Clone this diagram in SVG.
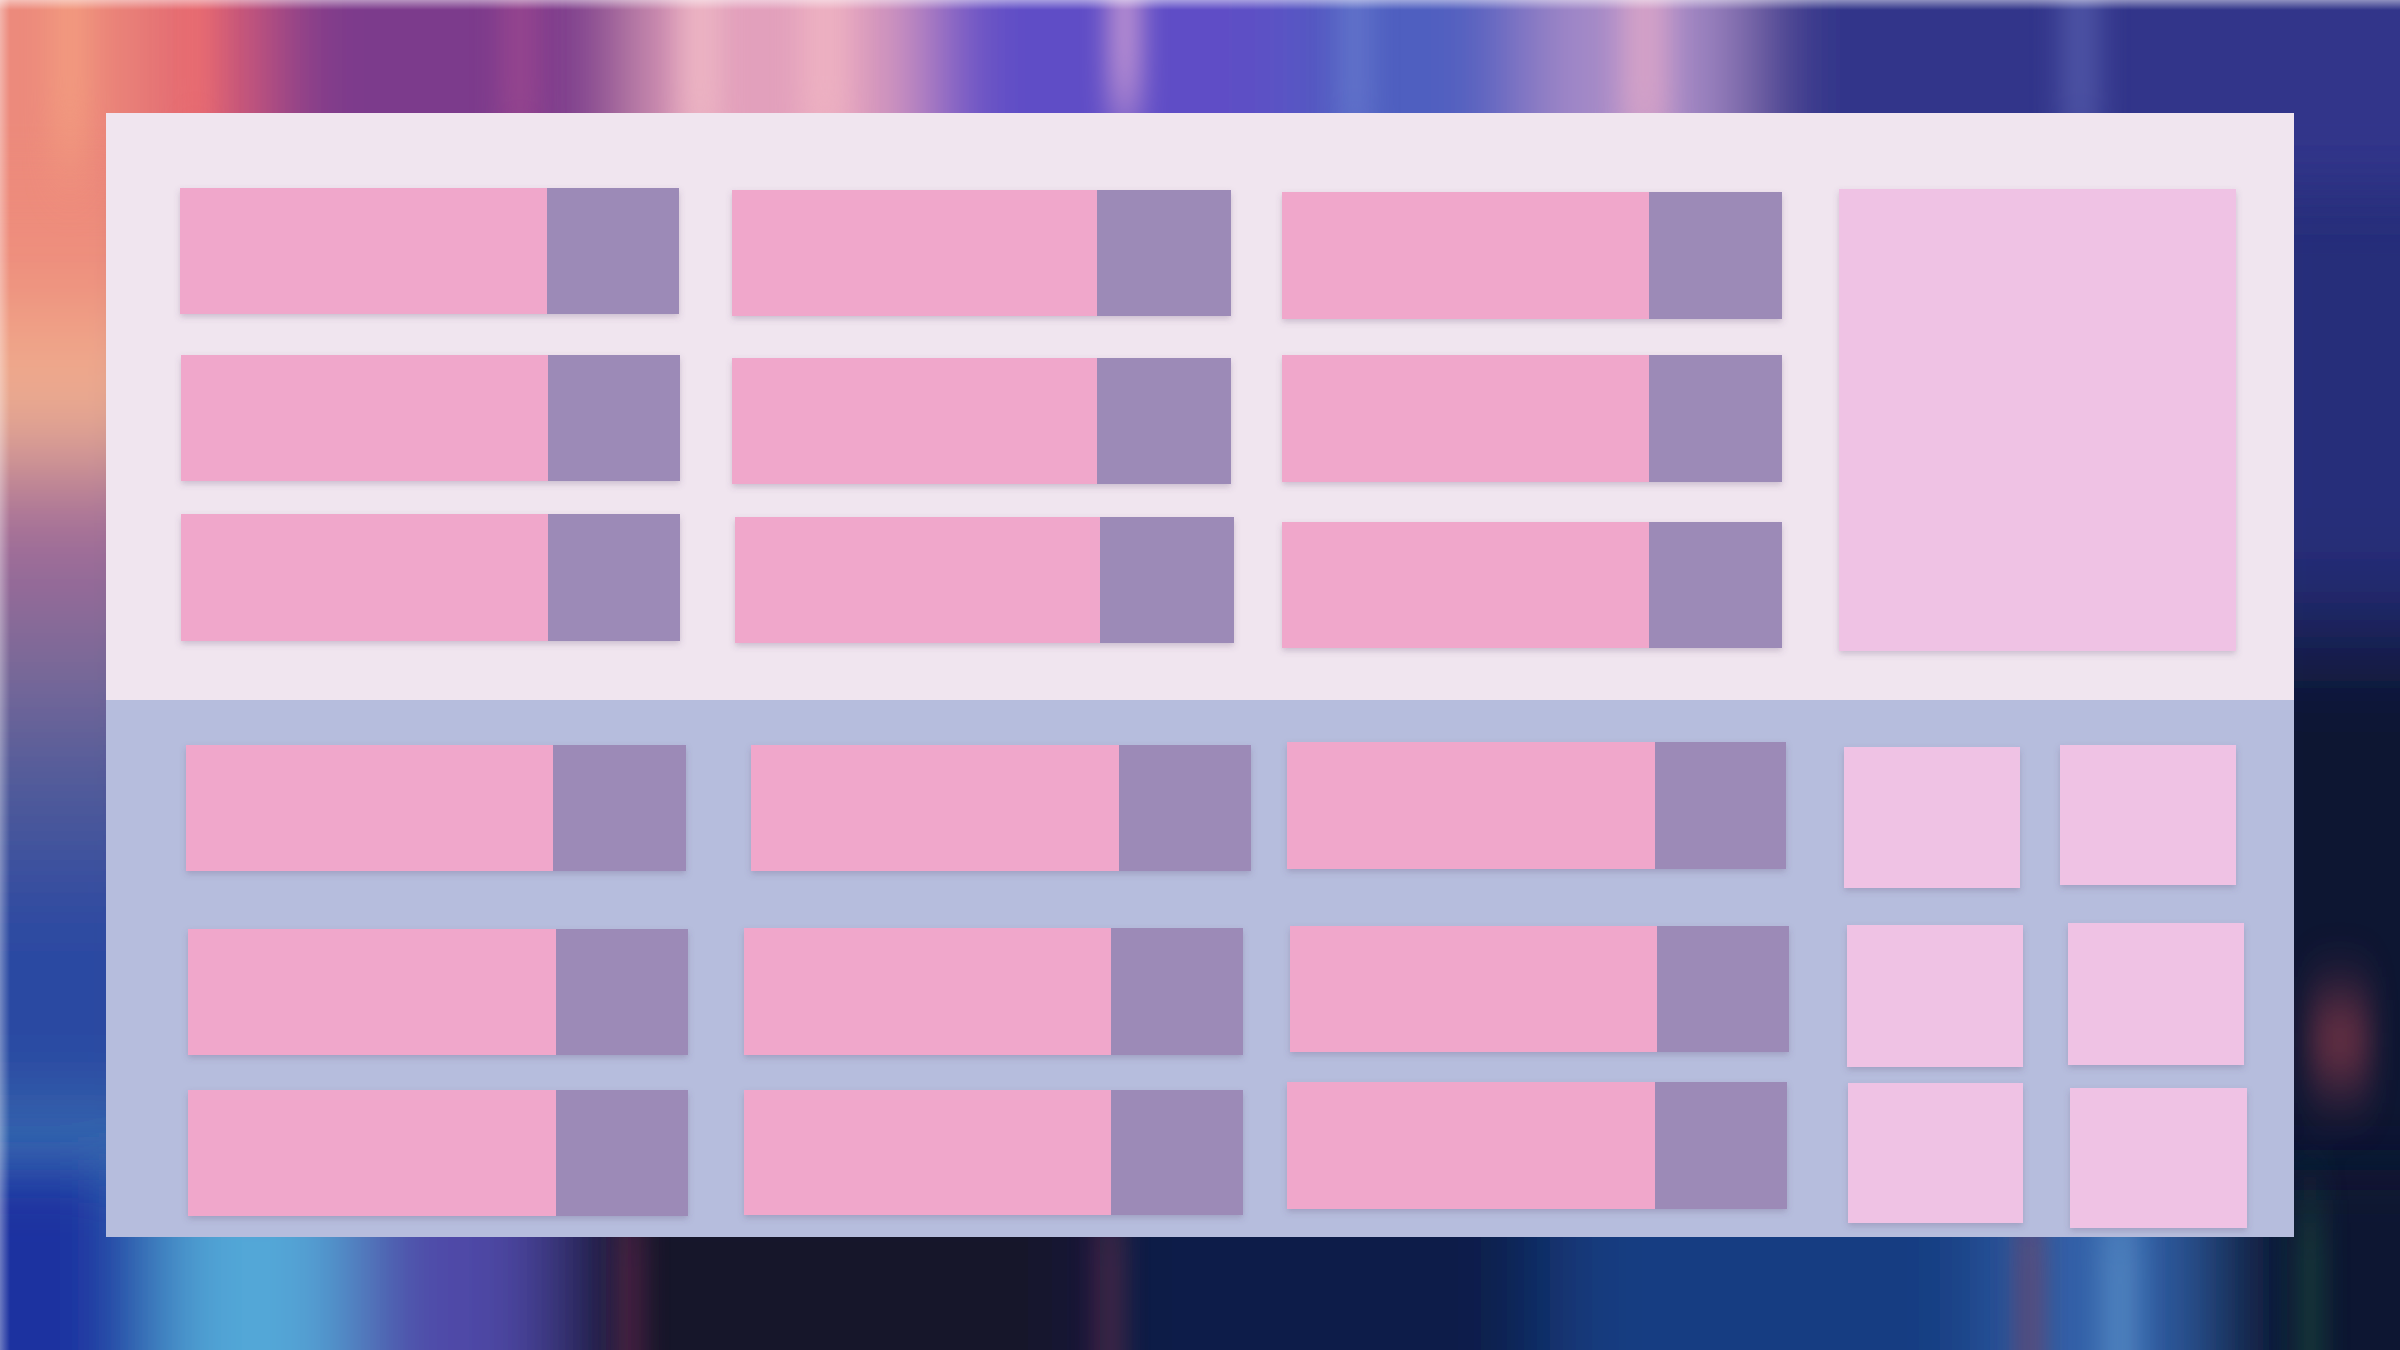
<svg xmlns="http://www.w3.org/2000/svg" width="2400" height="1350" viewBox="0 0 2400 1350">
<defs>
<style>
.pk{fill:#F0A7CB}
.pu{fill:#9C8AB7}
.lt{fill:#EFC2E4}
.card{filter:url(#sh)}
</style>
<filter id="sh" x="-10%" y="-10%" width="120%" height="130%">
<feDropShadow dx="0" dy="3" stdDeviation="3" flood-color="#5a4a70" flood-opacity="0.25"/>
</filter>
<filter id="bl" filterUnits="userSpaceOnUse" x="-300" y="-300" width="3000" height="1950">
<feGaussianBlur stdDeviation="30 55"/>
</filter>
<filter id="bl2" filterUnits="userSpaceOnUse" x="-300" y="-300" width="3000" height="1950">
<feGaussianBlur stdDeviation="45 30"/>
</filter>
<filter id="bl3" filterUnits="userSpaceOnUse" x="-300" y="-300" width="3000" height="1950">
<feGaussianBlur stdDeviation="14 35"/>
</filter>
<linearGradient id="edgeT" x1="0" y1="0" x2="0" y2="1">
<stop offset="0" stop-color="#ffffff" stop-opacity="0.45"/>
<stop offset="1" stop-color="#ffffff" stop-opacity="0"/>
</linearGradient>
<linearGradient id="edgeL" x1="0" y1="0" x2="1" y2="0">
<stop offset="0" stop-color="#ffffff" stop-opacity="0.35"/>
<stop offset="1" stop-color="#ffffff" stop-opacity="0"/>
</linearGradient>
</defs>
<g id="background">
<rect x="0" y="0" width="2400" height="1350" fill="#2a2c70"/>
<g filter="url(#bl)">
<rect x="-200" y="-200" width="360" height="530" fill="#ee8c7c"/>
<rect x="-200" y="330" width="360" height="130" fill="#f0b090"/>
<rect x="-200" y="460" width="360" height="140" fill="#a06a98"/>
<rect x="-200" y="600" width="360" height="120" fill="#7a6a98"/>
<rect x="-200" y="720" width="360" height="140" fill="#4e5a9a"/>
<rect x="-200" y="860" width="360" height="290" fill="#2a4aa2"/>
<rect x="-200" y="1150" width="360" height="60" fill="#4a90c8"/>
<rect x="-200" y="1210" width="360" height="340" fill="#12288e"/>
<rect x="2240" y="-200" width="400" height="820" fill="#262e7a"/>
<rect x="2240" y="620" width="400" height="930" fill="#0c1232"/>
</g>
<g filter="url(#bl2)">
<rect x="-200" y="-200" width="350" height="390" fill="#ec8a7c"/>
<rect x="150" y="-200" width="110" height="390" fill="#e06070"/>
<rect x="260" y="-200" width="380" height="390" fill="#7c3a8c"/>
<rect x="640" y="-200" width="280" height="390" fill="#e2a0bc"/>
<rect x="920" y="-200" width="380" height="390" fill="#5e4ec6"/>
<rect x="1300" y="-200" width="230" height="390" fill="#4f5ec0"/>
<rect x="1530" y="-200" width="210" height="390" fill="#a88cc8"/>
<rect x="1740" y="-200" width="900" height="390" fill="#30358a"/>
<rect x="-200" y="1170" width="360" height="400" fill="#1a30a0"/>
<rect x="160" y="1170" width="190" height="400" fill="#52a8d8"/>
<rect x="350" y="1170" width="200" height="400" fill="#5048a8"/>
<rect x="550" y="1170" width="550" height="400" fill="#12122c"/>
<rect x="1100" y="1170" width="450" height="400" fill="#0e1a48"/>
<rect x="1550" y="1170" width="450" height="400" fill="#163c82"/>
<rect x="2000" y="1170" width="200" height="400" fill="#3060a8"/>
<rect x="2200" y="1170" width="450" height="400" fill="#081430"/>
</g>
<g filter="url(#bl3)" opacity="0.7">
<rect x="50" y="-100" width="40" height="260" fill="#f4a080"/>
<rect x="180" y="-100" width="30" height="260" fill="#f07070"/>
<rect x="500" y="-100" width="40" height="260" fill="#a04a90"/>
<rect x="680" y="-100" width="40" height="260" fill="#f4c0c8"/>
<rect x="800" y="-100" width="50" height="260" fill="#f2b8c4"/>
<rect x="1110" y="-100" width="30" height="220" fill="#f0b8d8"/>
<rect x="1340" y="-100" width="30" height="260" fill="#6a80d0"/>
<rect x="1620" y="-100" width="50" height="260" fill="#e6aac8"/>
<rect x="2060" y="-100" width="40" height="260" fill="#5a60b0"/>
<rect x="620" y="1200" width="20" height="260" fill="#7a2a50"/>
<rect x="1100" y="1200" width="20" height="260" fill="#7a3050"/>
<rect x="2020" y="1200" width="20" height="260" fill="#8a3a50"/>
<rect x="2100" y="1200" width="40" height="260" fill="#5a90c8"/>
<rect x="2300" y="1200" width="20" height="260" fill="#1a5a40"/>
<rect x="2310" y="1000" width="60" height="80" fill="#a04050"/>
</g>
<rect x="0" y="0" width="2400" height="10" fill="url(#edgeT)"/>
<rect x="0" y="0" width="10" height="1350" fill="url(#edgeL)"/>
</g>
<g id="panel">
<rect x="106" y="113" width="2188" height="587" fill="#F0E5EF"/>
<rect x="106" y="700" width="2188" height="537" fill="#B6BDDD"/>
</g>
<g id="connectors"></g>
<g id="top-nodes">
<g id="t11" class="card"><rect class="pk" x="180" y="188" width="367" height="126"/><rect class="pu" x="547" y="188" width="132" height="126"/></g>
<g id="t21" class="card"><rect class="pk" x="181" y="355" width="367" height="126"/><rect class="pu" x="548" y="355" width="132" height="126"/></g>
<g id="t31" class="card"><rect class="pk" x="181" y="514" width="367" height="127"/><rect class="pu" x="548" y="514" width="132" height="127"/></g>
<g id="t12" class="card"><rect class="pk" x="732" y="190" width="365" height="126"/><rect class="pu" x="1097" y="190" width="134" height="126"/></g>
<g id="t22" class="card"><rect class="pk" x="732" y="358" width="365" height="126"/><rect class="pu" x="1097" y="358" width="134" height="126"/></g>
<g id="t32" class="card"><rect class="pk" x="735" y="517" width="365" height="126"/><rect class="pu" x="1100" y="517" width="134" height="126"/></g>
<g id="t13" class="card"><rect class="pk" x="1282" y="192" width="367" height="127"/><rect class="pu" x="1649" y="192" width="133" height="127"/></g>
<g id="t23" class="card"><rect class="pk" x="1282" y="355" width="367" height="127"/><rect class="pu" x="1649" y="355" width="133" height="127"/></g>
<g id="t33" class="card"><rect class="pk" x="1282" y="522" width="367" height="126"/><rect class="pu" x="1649" y="522" width="133" height="126"/></g>
<g id="big" class="card"><rect class="lt" x="1839" y="189" width="397" height="462"/></g>
</g>
<g id="bottom-nodes">
<g id="b11" class="card"><rect class="pk" x="186" y="745" width="367" height="126"/><rect class="pu" x="553" y="745" width="133" height="126"/></g>
<g id="b21" class="card"><rect class="pk" x="188" y="929" width="368" height="126"/><rect class="pu" x="556" y="929" width="132" height="126"/></g>
<g id="b31" class="card"><rect class="pk" x="188" y="1090" width="368" height="126"/><rect class="pu" x="556" y="1090" width="132" height="126"/></g>
<g id="b12" class="card"><rect class="pk" x="751" y="745" width="368" height="126"/><rect class="pu" x="1119" y="745" width="132" height="126"/></g>
<g id="b22" class="card"><rect class="pk" x="744" y="928" width="367" height="127"/><rect class="pu" x="1111" y="928" width="132" height="127"/></g>
<g id="b32" class="card"><rect class="pk" x="744" y="1090" width="367" height="125"/><rect class="pu" x="1111" y="1090" width="132" height="125"/></g>
<g id="b13" class="card"><rect class="pk" x="1287" y="742" width="368" height="127"/><rect class="pu" x="1655" y="742" width="131" height="127"/></g>
<g id="b23" class="card"><rect class="pk" x="1290" y="926" width="367" height="126"/><rect class="pu" x="1657" y="926" width="132" height="126"/></g>
<g id="b33" class="card"><rect class="pk" x="1287" y="1082" width="368" height="127"/><rect class="pu" x="1655" y="1082" width="132" height="127"/></g>
<g id="s1" class="card"><rect class="lt" x="1844" y="747" width="176" height="141"/></g>
<g id="s2" class="card"><rect class="lt" x="2060" y="745" width="176" height="140"/></g>
<g id="s3" class="card"><rect class="lt" x="1847" y="925" width="176" height="142"/></g>
<g id="s4" class="card"><rect class="lt" x="2068" y="923" width="176" height="142"/></g>
<g id="s5" class="card"><rect class="lt" x="1848" y="1083" width="175" height="140"/></g>
<g id="s6" class="card"><rect class="lt" x="2070" y="1088" width="177" height="140"/></g>
</g>
</svg>
